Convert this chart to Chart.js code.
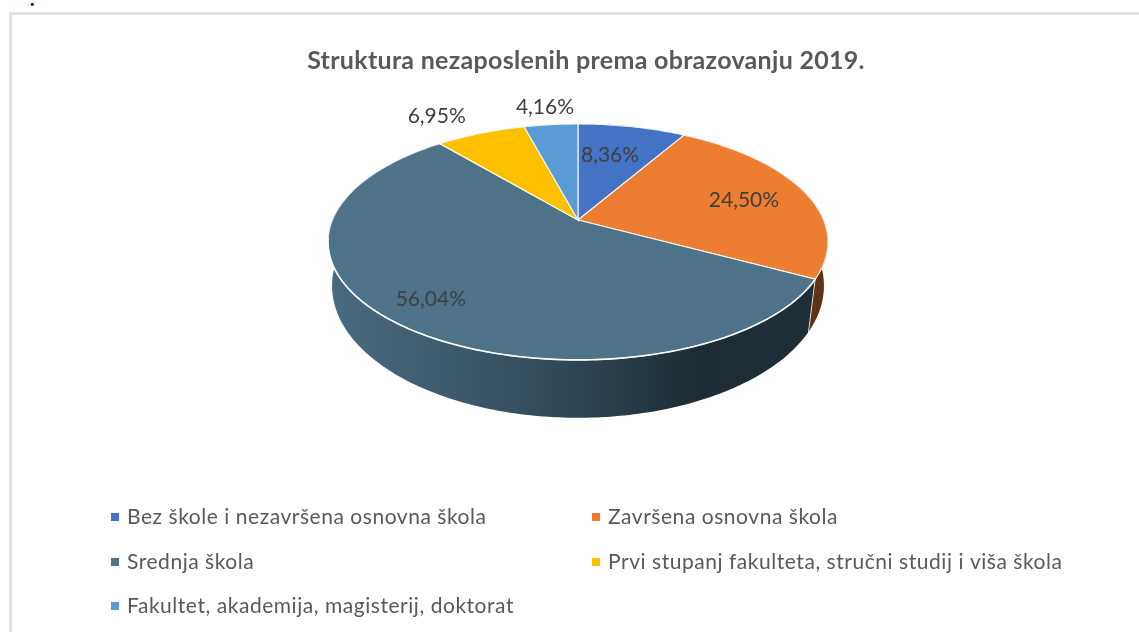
<!DOCTYPE html>
<html>
<head>
<meta charset="utf-8">
<title>Struktura nezaposlenih</title>
<script src="https://cdn.jsdelivr.net/npm/chart.js@4"></script>
<style>
  html, body { margin: 0; padding: 0; background: #fff; overflow: hidden; }
  #frame { position: absolute; left: 9px; top: 12px; right: 0; bottom: 0; border-left: 3px solid #e2e2e2; border-top: 3px solid #e2e2e2; }
  #dot { position: absolute; left: 30px; top: -10px; font: bold 18px "Liberation Serif"; color: #000; }
  canvas { position: absolute; left: 0; top: 0; }
</style>
</head>
<body>
<div id="dot">.</div>
<div id="frame"></div>
<canvas id="pie3d" width="1139" height="632"></canvas>
<script>
var chartTitle = 'Struktura nezaposlenih prema obrazovanju 2019.';
var categories = [
  'Bez škole i nezavršena osnovna škola',
  'Završena osnovna škola',
  'Srednja škola',
  'Prvi stupanj fakulteta, stručni studij i viša škola',
  'Fakultet, akademija, magisterij, doktorat'
];
var shares = [8.36, 24.50, 56.04, 6.95, 4.16];
var sliceColors = ['#4472C4', '#ED7D31', '#4E7389', '#FFC000', '#5B9BD5'];

// label nudge from the outer middle of each slice, px
var labelOffsets = [[-22, 28], [-59, 10], [34, -24], [-44, -17], [-6, -17]];

// fake perspective of the pie, all relative to the chart.js radius
var tilt = { shiftX: -8, scaleX: 1.965, scaleY: 0.911, persp: 0.186,
             depth: 46, baseX: 0.99, baseY: 1.133, basePersp: 0.15 };

function project(arc, angle, base) {
  var u = Math.cos(angle), v = Math.sin(angle);
  var w = 1 - (base ? tilt.basePersp : tilt.persp) * v;
  var x = arc.outerRadius * tilt.scaleX * u / w;
  var y = arc.outerRadius * tilt.scaleY * v / w;
  if (base) {
    return { x: arc.x + tilt.shiftX + x * tilt.baseX, y: arc.y + tilt.depth + y * tilt.baseY };
  }
  return { x: arc.x + tilt.shiftX + x, y: arc.y + y };
}

function shade(hex, f) {
  var n = parseInt(hex.slice(1), 16);
  var r = Math.round((n >> 16) * f), g = Math.round(((n >> 8) & 255) * f), b = Math.round((n & 255) * f);
  return 'rgb(' + r + ',' + g + ',' + b + ')';
}

function traceEdge(ctx, arc, from, to, base, first) {
  var steps = Math.max(2, Math.ceil(Math.abs(to - from) * 60));
  for (var i = 0; i <= steps; i++) {
    var p = project(arc, from + (to - from) * i / steps, base);
    if (i === 0 && first) ctx.moveTo(p.x, p.y);
    else ctx.lineTo(p.x, p.y);
  }
}

var pie3d = {
  id: 'pie3d',
  beforeDraw: function(chart) {
    chart.ctx.letterSpacing = '0.3px'; // title is wider than plain Lato
  },
  beforeDatasetDraw: function(chart, args) {
    var ctx = chart.ctx;
    var arcs = args.meta.data;
    var R = arcs[0].outerRadius;
    var left = arcs[0].x + tilt.shiftX - R * tilt.scaleX;
    var right = arcs[0].x + tilt.shiftX + R * tilt.scaleX;

    // side wall first, the top covers whatever faces away
    arcs.forEach(function(arc, i) {
      var g = ctx.createLinearGradient(left, 0, right, 0);
      g.addColorStop(0, shade(sliceColors[i], 0.93));
      g.addColorStop(0.25, shade(sliceColors[i], 0.78));
      g.addColorStop(0.5, shade(sliceColors[i], 0.6));
      g.addColorStop(0.74, shade(sliceColors[i], 0.39));
      g.addColorStop(1, shade(sliceColors[i], 0.4));
      ctx.beginPath();
      traceEdge(ctx, arc, arc.startAngle, arc.endAngle, false, true);
      traceEdge(ctx, arc, arc.endAngle, arc.startAngle, true, false);
      ctx.closePath();
      ctx.fillStyle = g;
      ctx.fill();
    });

    // light seam where two walls meet at the front
    arcs.forEach(function(arc) {
      if (Math.sin(arc.startAngle) <= 0) return;
      var a = project(arc, arc.startAngle, false);
      var b = project(arc, arc.startAngle, true);
      ctx.beginPath();
      ctx.moveTo(a.x, a.y);
      ctx.lineTo(b.x, b.y);
      ctx.strokeStyle = 'rgba(255,255,255,0.75)';
      ctx.lineWidth = 1;
      ctx.stroke();
    });

    arcs.forEach(function(arc, i) {
      ctx.beginPath();
      ctx.moveTo(arc.x + tilt.shiftX, arc.y);
      traceEdge(ctx, arc, arc.startAngle, arc.endAngle, false, false);
      ctx.closePath();
      ctx.fillStyle = sliceColors[i];
      ctx.fill();
      ctx.strokeStyle = 'rgba(255,255,255,0.85)';
      ctx.lineWidth = 1.2;
      ctx.stroke();
    });

    // brighter rim along the front edge of the top face
    ctx.beginPath();
    traceEdge(ctx, arcs[2], 0.5, Math.PI - 0.15, false, true);
    ctx.strokeStyle = 'rgba(255,255,255,0.9)';
    ctx.lineWidth = 1.6;
    ctx.stroke();
    return false;
  },
  afterDatasetsDraw: function(chart) {
    var ctx = chart.ctx;
    var arcs = chart.getDatasetMeta(0).data;
    ctx.save();

    // percent labels
    ctx.letterSpacing = '0px';
    ctx.font = '21px Lato';
    ctx.fillStyle = '#404040';
    ctx.textAlign = 'center';
    ctx.textBaseline = 'middle';
    arcs.forEach(function(arc, i) {
      var p = project(arc, (arc.startAngle + arc.endAngle) / 2, false);
      var text = shares[i].toFixed(2).replace('.', ',') + '%';
      ctx.fillText(text, p.x + labelOffsets[i][0], p.y + labelOffsets[i][1]);
    });

    // legend in two columns
    var colX = [111, 592], rowY = [517, 562, 606];
    ctx.letterSpacing = '0.54px';
    ctx.font = '21px Lato';
    ctx.textAlign = 'left';
    categories.forEach(function(name, i) {
      var x = colX[i % 2], y = rowY[Math.floor(i / 2)];
      ctx.fillStyle = sliceColors[i];
      ctx.fillRect(x, y - 4, 8, 8);
      ctx.fillStyle = '#595959';
      ctx.fillText(name, x + 16, y);
    });
    ctx.restore();
  }
};

new Chart(document.getElementById('pie3d'), {
  type: 'pie',
  data: {
    labels: categories,
    datasets: [{ data: shares, backgroundColor: sliceColors, borderWidth: 0 }]
  },
  options: {
    responsive: false,
    animation: false,
    layout: { padding: { top: 48, left: 33, right: 0, bottom: 287 } },
    plugins: {
      legend: { display: false },
      tooltip: { enabled: false },
      title: {
        display: true,
        text: chartTitle,
        color: '#595959',
        font: { family: 'Lato', size: 25, weight: 'bold', lineHeight: 1.056 },
        padding: { top: 0, bottom: 20.6 }
      }
    }
  },
  plugins: [pie3d]
});
</script>
</body>
</html>
